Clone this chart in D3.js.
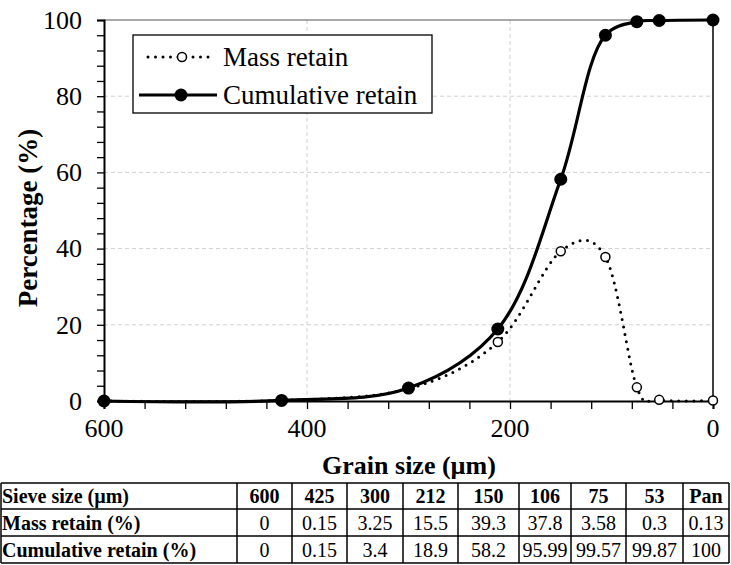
<!DOCTYPE html>
<html>
<head>
<meta charset="utf-8">
<script src="https://cdn.jsdelivr.net/npm/d3@7"></script>
<style>
  body { margin: 0; background: #fff; }
  .grid line { stroke: #d0d0d0; stroke-width: 1; stroke-dasharray: 4 3; }
  .axis path, .axis line { stroke: #000; }
  .cell { stroke: #000; stroke-width: 1.5; fill: none; }
</style>
</head>
<body>
<svg class="main" width="731" height="565"></svg>
<script>
// sieve data
const grainSize = [600, 425, 300, 212, 150, 106, 75, 53, 0];
const sieveLabels = ["600", "425", "300", "212", "150", "106", "75", "53", "Pan"];
const massRetain = [0, 0.15, 3.25, 15.5, 39.3, 37.8, 3.58, 0.3, 0.13];
const cumulativeRetain = [0, 0.15, 3.4, 18.9, 58.2, 95.99, 99.57, 99.87, 100];
const massLabels = ["0", "0.15", "3.25", "15.5", "39.3", "37.8", "3.58", "0.3", "0.13"];
const cumulativeLabels = ["0", "0.15", "3.4", "18.9", "58.2", "95.99", "99.57", "99.87", "100"];

const xTicks = [600, 400, 200, 0];
const yTicks = [0, 20, 40, 60, 80, 100];

const layout = { left: 104, right: 713, top: 20, bottom: 401 };
const serif = '"Liberation Serif"';

const svg = d3.select(".main");

// every text node goes through here so the serif face sticks
function label(parent, str, size, bold) {
  return parent.append("text")
    .style("font-family", serif)
    .style("font-size", size + "px")
    .style("font-weight", bold ? "bold" : "normal")
    .text(str);
}

const x = d3.scaleLinear().domain([600, 0]).range([layout.left, layout.right]);
const y = d3.scaleLinear().domain([0, 100]).range([layout.bottom, layout.top]);

// gridlines
const grid = svg.append("g").attr("class", "grid");
grid.selectAll(".gx")
  .data(xTicks.filter(d => d !== 600 && d !== 0))
  .join("line")
  .attr("x1", d => x(d)).attr("x2", d => x(d))
  .attr("y1", layout.top).attr("y2", layout.bottom);
grid.selectAll(".gy")
  .data(yTicks.filter(d => d !== 0 && d !== 100))
  .join("line")
  .attr("x1", layout.left).attr("x2", layout.right)
  .attr("y1", d => y(d)).attr("y2", d => y(d));

// top and right borders
svg.append("line")
  .attr("x1", layout.left).attr("x2", layout.right)
  .attr("y1", y(100)).attr("y2", y(100))
  .attr("stroke", "#555").attr("stroke-width", 1.2);
svg.append("line")
  .attr("x1", x(0)).attr("x2", x(0))
  .attr("y1", layout.top).attr("y2", layout.bottom)
  .attr("stroke", "#000").attr("stroke-width", 1.5);

// axes: minor ticks without labels, then labels
const xAxis = svg.append("g")
  .attr("class", "axis")
  .attr("transform", `translate(0,${layout.bottom})`)
  .call(d3.axisBottom(x).tickValues(d3.range(0, 601, 40)).tickSize(8).tickFormat(""));
xAxis.select(".domain").attr("stroke-width", 2);
xAxis.selectAll(".tick line").attr("stroke-width", 1.3);

const xLabels = svg.append("g");
xTicks.forEach(d => {
  label(xLabels, d, 26, false)
    .attr("x", x(d))
    .attr("y", 437)
    .attr("text-anchor", "middle");
});

const yAxis = svg.append("g")
  .attr("class", "axis")
  .attr("transform", `translate(${layout.left},0)`)
  .call(d3.axisLeft(y).tickValues(d3.range(0, 101, 4)).tickSize(7).tickFormat(""));
yAxis.select(".domain").attr("stroke-width", 2);
yAxis.selectAll(".tick line").attr("stroke-width", 1.3);

const yLabels = svg.append("g");
yTicks.forEach(d => {
  label(yLabels, d, 26, false)
    .attr("x", 82)
    .attr("y", y(d))
    .attr("dy", "0.34em")
    .attr("text-anchor", "end");
});

// axis titles
label(svg, "Grain size (µm)", 26, true)
  .attr("x", 409).attr("y", 474)
  .attr("text-anchor", "middle");

label(svg, "Percentage (%)", 27, true)
  .attr("transform", "translate(37,218) rotate(-90)")
  .attr("text-anchor", "middle");

// series -- mass curve keeps the hump over 150..106, cumulative stays under 100
const massLine = d3.line()
  .x(d => x(d[0]))
  .y(d => y(d[1]))
  .curve(d3.curveCatmullRom.alpha(0));

const cumLine = d3.line()
  .x(d => x(d[0]))
  .y(d => y(d[1]))
  .curve(d3.curveCatmullRom.alpha(0.5));

const massPts = d3.zip(grainSize, massRetain);
const cumPts = d3.zip(grainSize, cumulativeRetain);

svg.append("path")
  .datum(massPts)
  .attr("d", massLine)
  .attr("fill", "none")
  .attr("stroke", "#000")
  .attr("stroke-width", 3)
  .attr("stroke-linecap", "round")
  .attr("stroke-dasharray", "0 7.5");

svg.append("g")
  .selectAll("circle")
  .data(massPts)
  .join("circle")
  .attr("cx", d => x(d[0]))
  .attr("cy", d => y(d[1]))
  .attr("r", 4.5)
  .attr("fill", "#fff")
  .attr("stroke", "#000")
  .attr("stroke-width", 1.5);

svg.append("path")
  .datum(cumPts)
  .attr("d", cumLine)
  .attr("fill", "none")
  .attr("stroke", "#000")
  .attr("stroke-width", 3.2);

svg.append("g")
  .selectAll("circle")
  .data(cumPts)
  .join("circle")
  .attr("cx", d => x(d[0]))
  .attr("cy", d => y(d[1]))
  .attr("r", 6.5)
  .attr("fill", "#000");

// legend
const legend = svg.append("g");
legend.append("rect")
  .attr("x", 133).attr("y", 35)
  .attr("width", 299).attr("height", 78)
  .attr("fill", "#fff")
  .attr("stroke", "#000")
  .attr("stroke-width", 1.3);

legend.append("line")
  .attr("x1", 148).attr("x2", 212).attr("y1", 57).attr("y2", 57)
  .attr("stroke", "#000").attr("stroke-width", 3)
  .attr("stroke-linecap", "round").attr("stroke-dasharray", "0 7.5");
legend.append("circle")
  .attr("cx", 182).attr("cy", 57).attr("r", 4.5)
  .attr("fill", "#fff").attr("stroke", "#000").attr("stroke-width", 1.5);
label(legend, "Mass retain", 27, false)
  .attr("x", 223).attr("y", 66);

legend.append("line")
  .attr("x1", 139).attr("x2", 217).attr("y1", 95).attr("y2", 95)
  .attr("stroke", "#000").attr("stroke-width", 3.2);
legend.append("circle")
  .attr("cx", 181).attr("cy", 95).attr("r", 6.5)
  .attr("fill", "#000");
label(legend, "Cumulative retain", 27, false)
  .attr("x", 223).attr("y", 104);

// table under the chart
const colEdges = [1, 237, 292, 347, 403, 458, 519, 571, 626, 683, 729];
const rowEdges = [483, 509, 536, 563];
const rows = [
  { title: "Sieve size (µm)", cells: sieveLabels, bold: true },
  { title: "Mass retain (%)", cells: massLabels, bold: false },
  { title: "Cumulative retain (%)", cells: cumulativeLabels, bold: false }
];

const table = svg.append("g");

rows.forEach((row, r) => {
  const base = rowEdges[r + 1] - 6;

  label(table, row.title, 20, true)
    .attr("x", colEdges[0] + 1)
    .attr("y", base);

  row.cells.forEach((d, i) => {
    label(table, d, 20, row.bold)
      .attr("x", (colEdges[i + 1] + colEdges[i + 2]) / 2)
      .attr("y", base)
      .attr("text-anchor", "middle");
  });
});

// grid of the table
rowEdges.forEach((ry, i) => {
  table.append("line")
    .attr("class", "cell")
    .attr("x1", colEdges[0]).attr("x2", colEdges[colEdges.length - 1])
    .attr("y1", ry).attr("y2", ry)
    .attr("stroke-width", i === 0 || i === rowEdges.length - 1 ? 2.5 : 1.5);
});
colEdges.forEach(cx => {
  table.append("line")
    .attr("class", "cell")
    .attr("x1", cx).attr("x2", cx)
    .attr("y1", rowEdges[0]).attr("y2", rowEdges[rowEdges.length - 1]);
});
</script>
</body>
</html>
